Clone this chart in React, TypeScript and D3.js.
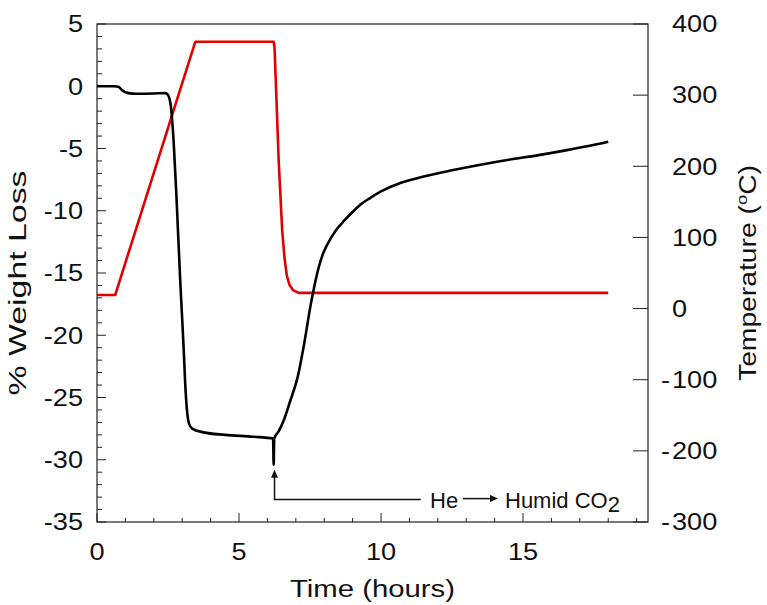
import { useEffect, useRef } from 'react';
import * as d3 from 'd3';

// weight loss trace (time in hours, % weight)
const weightTime = [0, 0.6, 0.75, 0.9, 1.1, 1.4, 2.0, 2.4, 2.5, 2.6, 2.7, 2.8, 2.93, 3.05, 3.12, 3.18, 3.24, 3.35, 3.75, 4.5, 5.5, 6.2, 6.22, 6.24, 6.4, 6.58, 6.8, 7.06, 7.3, 7.52, 7.64, 7.8, 7.95, 8.1, 8.4, 8.7, 9.0, 9.28, 9.6, 10.0, 10.7, 11.5, 12.5, 13.5, 14.5, 15.5, 16.5, 17.3, 18.0];
const weightLoss = [0, 0, -0.05, -0.35, -0.55, -0.6, -0.58, -0.55, -0.7, -1.6, -4.5, -9, -15.6, -21, -24.5, -26.3, -27.1, -27.5, -27.8, -28.0, -28.15, -28.3, -30.4, -28.3, -27.7, -26.8, -25.3, -23.4, -20.6, -17.6, -16.2, -14.6, -13.5, -12.75, -11.6, -10.8, -10.1, -9.5, -9.0, -8.45, -7.75, -7.25, -6.75, -6.3, -5.9, -5.55, -5.15, -4.8, -4.45];

// temperature trace (time in hours, deg C)
const tempTime = [0, 0.64, 3.46, 6.22, 6.25, 6.4, 6.52, 6.6, 6.68, 6.78, 6.9, 7.1, 18.0];
const tempValues = [19, 19, 375, 375, 368, 205, 110, 72, 47, 33, 26, 22, 22];

const xTicks = [0, 5, 10, 15];
const xMinor = d3.range(0, 20, 1);
const leftTicks = [-35, -30, -25, -20, -15, -10, -5, 0, 5];
const leftMinor = d3.range(-35, 6, 1);
const rightTicks = [-300, -200, -100, 0, 100, 200, 300, 400];

const W = 767, H = 605;
const FONT = '"Liberation Sans", Arial, sans-serif';
const SX = 1.18; // the original labels are set a bit wider than Arial

const App = () => {
  const svgRef = useRef<SVGSVGElement>(null);

  useEffect(() => {
    if (!svgRef.current) return;
    const svg = d3.select(svgRef.current);
    svg.selectAll('*').remove();

    const left = 97, right = 648, top = 24, bottom = 522;
    const x = d3.scaleLinear().domain([0, 19.4]).range([left, right]);
    const yL = d3.scaleLinear().domain([-35, 5]).range([bottom, top]);
    const yR = d3.scaleLinear().domain([-300, 400]).range([bottom, top]);

    const g = svg.append('g').attr('font-family', FONT).attr('fill', '#111');
    const axisColor = '#222';

    const label = (px: number, py: number, txt: string, anchor: string) =>
      g.append('text')
        .attr('transform', `translate(${px},${py}) scale(${SX},1)`)
        .attr('dy', '0.36em')
        .attr('text-anchor', anchor).attr('font-size', 23)
        .text(txt);

    // frame
    g.append('rect')
      .attr('x', left).attr('y', top)
      .attr('width', right - left).attr('height', bottom - top)
      .attr('fill', 'none').attr('stroke', axisColor).attr('stroke-width', 1.2);

    // bottom ticks
    xMinor.forEach(v => {
      if (x(v) > right) return;
      const major = v % 5 === 0;
      g.append('line')
        .attr('x1', x(v)).attr('x2', x(v))
        .attr('y1', bottom).attr('y2', bottom - (major ? 9 : 4))
        .attr('stroke', axisColor).attr('stroke-width', 1);
    });
    xTicks.forEach(v => label(x(v), 552, `${v}`, 'middle'));

    // left ticks
    leftMinor.forEach(v => {
      const major = v % 5 === 0;
      g.append('line')
        .attr('x1', left).attr('x2', left + (major ? 9 : 5))
        .attr('y1', yL(v)).attr('y2', yL(v))
        .attr('stroke', axisColor).attr('stroke-width', 1);
    });
    leftTicks.forEach(v => label(83, yL(v), v < 0 ? `-${Math.abs(v)}` : `${v}`, 'end'));

    // right ticks
    rightTicks.forEach(v => {
      g.append('line')
        .attr('x1', right).attr('x2', right - 15)
        .attr('y1', yR(v)).attr('y2', yR(v))
        .attr('stroke', axisColor).attr('stroke-width', 1);
      label(672, yR(v), `${Math.abs(v)}`, 'start');
      if (v < 0) label(670, yR(v), '-', 'end');
    });

    // axis titles
    g.append('text')
      .attr('x', (left + right) / 2).attr('y', 597)
      .attr('text-anchor', 'middle').attr('font-size', 23)
      .attr('textLength', 165).attr('lengthAdjust', 'spacingAndGlyphs')
      .text('Time (hours)');
    g.append('text')
      .attr('transform', `translate(26,${(top + bottom) / 2 + 10}) rotate(-90)`)
      .attr('text-anchor', 'middle').attr('font-size', 23)
      .attr('textLength', 225).attr('lengthAdjust', 'spacingAndGlyphs')
      .text('% Weight Loss');
    const tt = g.append('text')
      .attr('transform', `translate(756,${(top + bottom) / 2}) rotate(-90)`)
      .attr('text-anchor', 'middle').attr('font-size', 23)
      .attr('textLength', 216).attr('lengthAdjust', 'spacingAndGlyphs');
    tt.append('tspan').text('Temperature (');
    tt.append('tspan').attr('font-size', 15).attr('dy', -9).text('o');
    tt.append('tspan').attr('dy', 9).text('C)');

    // series
    const weightData = weightTime.map((t, i) => [t, weightLoss[i]] as [number, number]);
    const tempData = tempTime.map((t, i) => [t, tempValues[i]] as [number, number]);

    const lineL = d3.line<[number, number]>()
      .x(d => x(d[0])).y(d => yL(d[1]))
      .curve(d3.curveMonotoneX);
    const lineR = d3.line<[number, number]>()
      .x(d => x(d[0])).y(d => yR(d[1]));

    g.append('path')
      .attr('d', lineR(tempData))
      .attr('fill', 'none').attr('stroke', '#e30000').attr('stroke-width', 2.6)
      .attr('stroke-linejoin', 'round');
    g.append('path')
      .attr('d', lineL(weightData))
      .attr('fill', 'none').attr('stroke', '#000').attr('stroke-width', 2.6)
      .attr('stroke-linejoin', 'round');

    // annotation: gas switch
    const ax = x(6.25);
    const tipY = yL(-30.8);
    const baseY = yL(-33.2);
    g.append('path')
      .attr('d', `M${ax},${tipY + 5} L${ax},${baseY} L${x(11.4)},${baseY}`)
      .attr('fill', 'none').attr('stroke', '#111').attr('stroke-width', 1.5);
    g.append('path')
      .attr('d', `M${ax},${tipY} L${ax - 3.5},${tipY + 8} L${ax + 3.5},${tipY + 8} Z`)
      .attr('fill', '#111');
    g.append('text')
      .attr('x', 430).attr('y', baseY + 8).attr('font-size', 22)
      .text('He');
    const arrowY = baseY - 1;
    g.append('line')
      .attr('x1', 463).attr('x2', 491)
      .attr('y1', arrowY).attr('y2', arrowY)
      .attr('stroke', '#111').attr('stroke-width', 1.5);
    g.append('path')
      .attr('d', `M498,${arrowY} L490,${arrowY - 3.5} L490,${arrowY + 3.5} Z`)
      .attr('fill', '#111');
    const lab = g.append('text')
      .attr('x', 505).attr('y', baseY + 8).attr('font-size', 22);
    lab.append('tspan').text('Humid CO');
    lab.append('tspan').attr('dy', 4).text('2');
  }, []);

  return (
    <svg
      ref={svgRef}
      width={W}
      height={H}
      style={{ position: 'absolute', left: 0, top: 0, display: 'block', background: '#fff' }}
    />
  );
};

export default App;
